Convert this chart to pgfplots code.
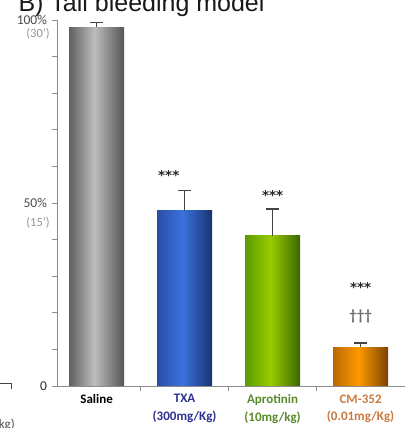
\documentclass[border=0pt]{standalone}
\usepackage{fontspec}
\setmainfont{Carlito}
\newfontfamily\titlefont{Liberation Sans}
\newfontfamily\starfont{DejaVu Sans}
\usepackage{pgfplots}
\pgfplotsset{compat=1.18}

\definecolor{sL}{HTML}{606060}\definecolor{sC}{HTML}{BDBDBD}\definecolor{sR}{HTML}{555555}
\definecolor{tL}{HTML}{2A4EA8}\definecolor{tC}{HTML}{3A72DC}\definecolor{tR}{HTML}{1B3270}
\definecolor{aL}{HTML}{5A9A00}\definecolor{aC}{HTML}{9ACC00}\definecolor{aR}{HTML}{3A6600}
\definecolor{cL}{HTML}{B86800}\definecolor{cC}{HTML}{FF9A00}\definecolor{cR}{HTML}{7A4200}
\definecolor{errc}{HTML}{444444}
\definecolor{axc}{HTML}{8C8C8C}
\definecolor{pctc}{HTML}{4A4A4A}
\definecolor{parc}{HTML}{959595}
\definecolor{txac}{HTML}{2E3192}
\definecolor{aproc}{HTML}{5A8A2A}
\definecolor{cmc}{HTML}{CC7A40}
\definecolor{starc}{HTML}{2A2A2A}
\definecolor{dagc}{HTML}{6A6A6A}

\pgfdeclarehorizontalshading{salineS}{100bp}{color(0bp)=(sL); color(25bp)=(sL); color(48bp)=(sC); color(75bp)=(sR); color(100bp)=(sR)}
\pgfdeclarehorizontalshading{txaS}{100bp}{color(0bp)=(tL); color(25bp)=(tL); color(48bp)=(tC); color(75bp)=(tR); color(100bp)=(tR)}
\pgfdeclarehorizontalshading{aproS}{100bp}{color(0bp)=(aL); color(25bp)=(aL); color(48bp)=(aC); color(75bp)=(aR); color(100bp)=(aR)}
\pgfdeclarehorizontalshading{cmS}{100bp}{color(0bp)=(cL); color(25bp)=(cL); color(48bp)=(cC); color(75bp)=(cR); color(100bp)=(cR)}

\begin{document}
\begin{tikzpicture}
\begin{axis}[
  at={(57pt,42pt)}, anchor=south west,
  scale only axis, width=347.6pt, height=366pt,
  xmin=-0.45, xmax=3.5, ymin=0, ymax=100,
  axis lines=left, axis line style={-, draw=axc, line width=0.9pt},
  tick align=outside, major tick length=5pt,
  tick style={draw=axc, line width=0.8pt},
  xtick={0.5,1.5,2.5}, xticklabels={},
  extra x ticks={0,1,2,3},
  extra x tick style={major tick length=0pt},
  extra x tick labels={
    {\textcolor{black}{Saline}},
    {\textcolor{txac}{TXA}\\\textcolor{txac}{(300mg/Kg)}},
    {\textcolor{aproc}{Aprotinin}\\\textcolor{aproc}{(10mg/kg)}},
    {\textcolor{cmc}{CM-352}\\\textcolor{cmc}{(0.01mg/Kg)}}},
  xticklabel style={align=center, font=\bfseries\fontsize{13}{17.5}\selectfont, yshift=-5pt},
  ytick={0,10,...,100},
  yticklabels={\textcolor{starc}{0},,,,,\textcolor{pctc}{50\%},,,,,\textcolor{pctc}{100\%}},
  yticklabel style={font=\fontsize{13.5}{15}\selectfont, xshift=-1.5pt},
  clip=false,
]
\addplot[ybar, bar width=55pt, bar shift=0pt, draw=none, shading=salineS] coordinates {(0,98.0)};
\addplot[ybar, bar width=55pt, bar shift=0pt, draw=none, shading=txaS] coordinates {(1,47.9)};
\addplot[ybar, bar width=55pt, bar shift=0pt, draw=none, shading=aproS] coordinates {(2,41.0)};
\addplot[ybar, bar width=55pt, bar shift=0pt, draw=none, shading=cmS] coordinates {(3,10.6)};
\addplot[forget plot, draw=none, mark=none,
  error bars/.cd, y dir=plus, y explicit,
  error bar style={draw=errc, line width=1.6pt},
  error mark options={rotate=90, mark size=6.5pt, line width=1.6pt, draw=errc}]
  table[x=x, y=y, y error=e] {
  x y e
  0 98.0 1.3
  1 47.9 5.5
  2 41.0 7.4
  3 10.6 1.1
};
\node[font=\starfont\bfseries\fontsize{13.5}{13.5}\selectfont, text=starc] at (axis cs:0.82,57.6) {***};
\node[font=\starfont\bfseries\fontsize{13.5}{13.5}\selectfont, text=starc] at (axis cs:2.0,52.1) {***};
\node[font=\starfont\bfseries\fontsize{13.5}{13.5}\selectfont, text=starc] at (axis cs:3.0,27.0) {***};
\node[font=\bfseries\fontsize{15}{15}\selectfont, text=dagc] at (axis cs:3.0,19.1) {†††};
\node[anchor=east, inner sep=0pt, font=\fontsize{12.5}{13}\selectfont, text=parc] at (axis cs:-0.53,96.2) {(30')};
\node[anchor=east, inner sep=0pt, font=\fontsize{12.5}{13}\selectfont, text=parc] at (axis cs:-0.53,44.6) {(15')};
\end{axis}
\node[anchor=base west, font=\titlefont\fontsize{25}{25}\selectfont, text=black!90] at (15pt,416pt) {B) Tail bleeding model};
\draw[draw=errc, line width=0.9pt] (0pt,44.5pt) -- (11pt,44.5pt) -- (11pt,39pt);
\node[anchor=base east, inner sep=0pt, font=\fontsize{13}{13}\selectfont, text=pctc] at (15pt,-1pt) {kg)};
\pgfresetboundingbox
\path[use as bounding box] (0pt,0pt) rectangle (405pt,428pt);
\end{tikzpicture}
\end{document}
